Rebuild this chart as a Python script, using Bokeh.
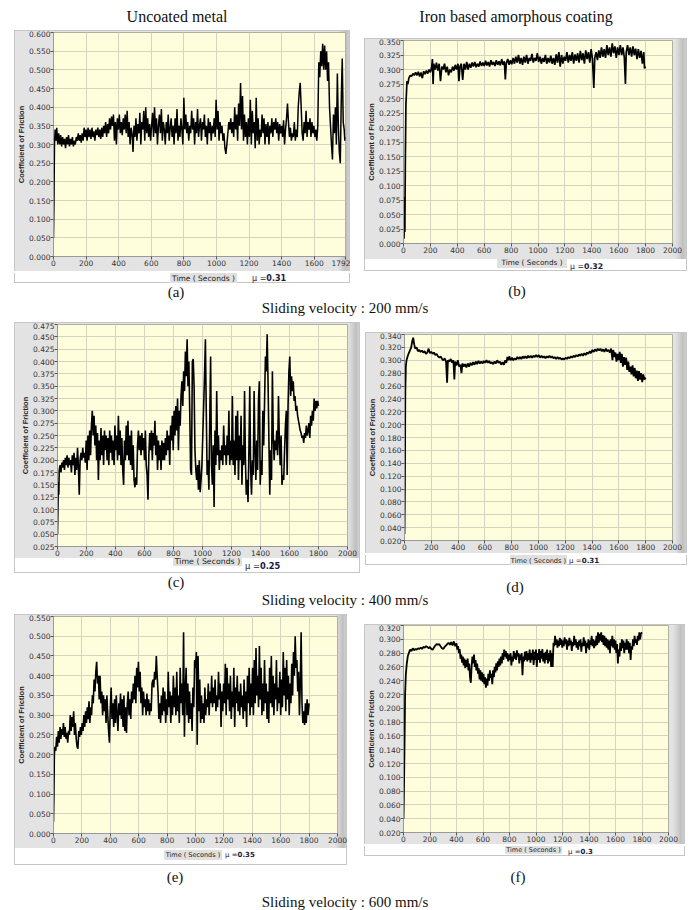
from bokeh.plotting import figure
from bokeh.models import Range1d, FixedTicker, PrintfTickFormatter, Div, Spacer
from bokeh.layouts import row, column
from bokeh.embed import file_html
from bokeh.resources import INLINE

# ---------------- data (time in s, coefficient of friction) ----------------
a_points = [(0,0.05),(3,0.15),(6,0.30),(10,0.34),(15,0.31),(20,0.345),(26,0.30),(32,0.33),(38,0.30),(44,0.325),
(50,0.295),(56,0.32),(62,0.30),(68,0.315),(74,0.29),(80,0.32),(86,0.30),(92,0.325),(98,0.295),(104,0.315),
(110,0.30),(116,0.32),(122,0.295),(128,0.31),(134,0.30),(140,0.32),(146,0.31),(152,0.33),(158,0.31),(164,0.325),
(170,0.305),(176,0.33),(182,0.31),(188,0.345),(194,0.32),(200,0.34),(206,0.31),(212,0.345),(218,0.32),(224,0.34),
(230,0.315),(236,0.345),(242,0.32),(248,0.335),(254,0.31),(260,0.34),(266,0.325),(272,0.345),(278,0.32),(284,0.34),
(290,0.315),(296,0.345),(302,0.32),(308,0.35),(314,0.33),(320,0.36),(326,0.32),(332,0.355),(338,0.33),(344,0.37),
(350,0.34),(356,0.375),(362,0.35),(368,0.38),(374,0.31),(380,0.36),(386,0.30),(392,0.37),(398,0.34),(404,0.38),
(410,0.33),(416,0.36),(422,0.325),(428,0.37),(434,0.34),(440,0.38),(446,0.33),(452,0.39),(458,0.32),(464,0.36),
(470,0.30),(476,0.345),(482,0.33),(488,0.28),(494,0.35),(500,0.32),(506,0.37),(512,0.31),(518,0.355),(524,0.33),
(530,0.385),(536,0.30),(542,0.36),(548,0.34),(554,0.39),(560,0.31),(566,0.40),(572,0.33),(578,0.37),(584,0.32),
(590,0.355),(596,0.31),(602,0.35),(608,0.385),(614,0.32),(620,0.40),(626,0.33),(632,0.37),(638,0.30),(644,0.35),
(650,0.38),(656,0.33),(662,0.395),(668,0.31),(674,0.36),(680,0.34),(686,0.30),(692,0.36),(698,0.33),(704,0.38),
(710,0.31),(716,0.345),(722,0.37),(728,0.32),(734,0.35),(740,0.30),(746,0.37),(752,0.33),(758,0.395),(764,0.31),
(770,0.35),(776,0.32),(782,0.37),(788,0.34),(794,0.30),(800,0.425),(806,0.34),(812,0.38),(818,0.33),(824,0.36),
(830,0.31),(836,0.35),(842,0.33),(848,0.39),(854,0.34),(860,0.37),(866,0.30),(872,0.36),(878,0.33),(884,0.395),
(890,0.32),(896,0.35),(902,0.37),(908,0.31),(914,0.36),(920,0.34),(926,0.38),(932,0.32),(938,0.35),(944,0.30),
(950,0.37),(956,0.33),(962,0.36),(968,0.31),(974,0.35),(980,0.33),(986,0.37),(992,0.32),(998,0.42),(1004,0.34),
(1010,0.39),(1016,0.31),(1022,0.36),(1028,0.33),(1034,0.35),(1040,0.31),(1046,0.33),(1052,0.29),(1058,0.275),(1064,0.30),
(1070,0.33),(1076,0.36),(1082,0.34),(1088,0.37),(1094,0.33),(1100,0.36),(1106,0.32),(1112,0.40),(1118,0.34),(1124,0.38),
(1130,0.31),(1136,0.41),(1142,0.35),(1148,0.465),(1154,0.34),(1160,0.43),(1166,0.31),(1172,0.38),(1178,0.32),(1184,0.36),
(1190,0.30),(1196,0.37),(1202,0.32),(1208,0.42),(1214,0.30),(1220,0.39),(1226,0.33),(1232,0.36),(1238,0.29),(1244,0.425),
(1250,0.31),(1256,0.37),(1262,0.30),(1268,0.34),(1274,0.32),(1280,0.38),(1286,0.33),(1292,0.37),(1298,0.30),(1304,0.355),
(1310,0.32),(1316,0.36),(1322,0.30),(1328,0.35),(1334,0.33),(1340,0.37),(1346,0.32),(1352,0.36),(1358,0.34),(1364,0.37),
(1370,0.33),(1376,0.36),(1382,0.31),(1388,0.355),(1394,0.33),(1400,0.35),(1406,0.32),(1412,0.365),(1418,0.30),(1424,0.34),
(1430,0.37),(1436,0.41),(1442,0.36),(1448,0.32),(1454,0.345),(1460,0.31),(1466,0.33),(1472,0.32),(1478,0.36),(1484,0.31),
(1490,0.34),(1496,0.32),(1502,0.40),(1508,0.44),(1514,0.465),(1520,0.40),(1526,0.33),(1532,0.31),(1538,0.36),(1544,0.33),
(1550,0.39),(1556,0.32),(1562,0.36),(1568,0.34),(1574,0.37),(1580,0.32),(1586,0.36),(1592,0.33),(1598,0.35),(1604,0.32),
(1610,0.34),(1616,0.31),(1622,0.35),(1628,0.52),(1634,0.48),(1640,0.55),(1646,0.51),(1652,0.57),(1658,0.50),(1664,0.565),
(1670,0.50),(1676,0.55),(1682,0.47),(1688,0.52),(1694,0.40),(1700,0.35),(1706,0.30),(1712,0.26),(1718,0.38),(1724,0.33),
(1730,0.40),(1736,0.30),(1742,0.49),(1748,0.35),(1754,0.28),(1760,0.25),(1766,0.42),(1772,0.53),(1778,0.36),(1784,0.34),
(1788,0.31),(1792,0.32)]

b_points = [(0,0.008),(4,0.01),(7,0.08),(10,0.02),(14,0.15),(18,0.24),(22,0.26),(26,0.28),(32,0.275),(40,0.285),
(50,0.29),(60,0.288),(70,0.293),(80,0.29),(90,0.295),(100,0.29),(110,0.296),(120,0.288),(130,0.295),(140,0.285),
(150,0.297),(160,0.292),(170,0.298),(180,0.293),(190,0.30),(200,0.295),(210,0.305),(215,0.318),(220,0.275),(225,0.31),
(235,0.30),(245,0.312),(255,0.298),(265,0.31),(275,0.28),(285,0.305),(295,0.30),(305,0.31),(315,0.295),(325,0.305),
(335,0.29),(345,0.30),(355,0.295),(365,0.305),(375,0.298),(385,0.308),(395,0.30),(405,0.31),(412,0.28),(420,0.305),
(430,0.31),(440,0.282),(450,0.31),(460,0.30),(470,0.313),(480,0.30),(490,0.31),(500,0.303),(510,0.312),(520,0.305),
(530,0.313),(540,0.304),(550,0.31),(560,0.305),(570,0.314),(580,0.306),(590,0.312),(600,0.306),(610,0.315),(620,0.307),
(630,0.313),(640,0.305),(650,0.316),(660,0.308),(670,0.313),(680,0.306),(690,0.316),(700,0.308),(710,0.314),(720,0.307),
(730,0.318),(740,0.308),(750,0.314),(757,0.283),(764,0.31),(775,0.318),(785,0.308),(795,0.316),(805,0.309),(815,0.32),
(825,0.31),(835,0.322),(845,0.312),(855,0.325),(865,0.31),(875,0.32),(885,0.308),(895,0.322),(905,0.312),(915,0.325),
(925,0.31),(935,0.32),(945,0.315),(955,0.327),(965,0.312),(975,0.32),(985,0.315),(995,0.328),(1005,0.313),(1015,0.322),
(1025,0.31),(1035,0.32),(1045,0.313),(1055,0.325),(1065,0.31),(1075,0.32),(1085,0.312),(1095,0.324),(1105,0.31),(1115,0.32),
(1125,0.308),(1135,0.326),(1145,0.312),(1155,0.33),(1165,0.305),(1175,0.325),(1185,0.31),(1195,0.322),(1205,0.315),(1215,0.33),
(1225,0.312),(1235,0.325),(1245,0.315),(1255,0.33),(1265,0.31),(1275,0.326),(1285,0.315),(1295,0.328),(1305,0.312),(1315,0.332),
(1325,0.316),(1335,0.328),(1345,0.31),(1355,0.333),(1365,0.318),(1375,0.33),(1385,0.312),(1395,0.335),(1405,0.318),(1415,0.268),
(1422,0.32),(1432,0.33),(1442,0.316),(1452,0.333),(1462,0.32),(1472,0.338),(1482,0.322),(1492,0.335),(1502,0.32),(1512,0.342),
(1522,0.325),(1532,0.338),(1542,0.322),(1552,0.345),(1562,0.328),(1572,0.34),(1582,0.32),(1592,0.338),(1602,0.325),(1612,0.342),
(1622,0.325),(1632,0.338),(1642,0.32),(1650,0.275),(1656,0.33),(1666,0.342),(1676,0.325),(1686,0.338),(1696,0.322),(1706,0.34),
(1716,0.325),(1726,0.336),(1736,0.318),(1746,0.335),(1756,0.32),(1766,0.332),(1776,0.31),(1786,0.33),(1792,0.302),(1800,0.305)]

c_points = [(0,0.05),(3,0.10),(6,0.155),(9,0.13),(12,0.18),(18,0.19),(24,0.175),(30,0.195),(36,0.185),(42,0.20),
(48,0.18),(54,0.205),(60,0.19),(66,0.21),(72,0.185),(78,0.205),(84,0.19),(90,0.20),(96,0.175),(102,0.21),
(108,0.19),(114,0.215),(120,0.17),(126,0.205),(132,0.18),(138,0.225),(144,0.19),(150,0.13),(156,0.20),(162,0.215),
(168,0.20),(174,0.225),(180,0.205),(186,0.215),(192,0.195),(198,0.24),(204,0.18),(210,0.25),(216,0.20),(222,0.26),
(228,0.21),(234,0.27),(240,0.30),(246,0.25),(252,0.29),(258,0.23),(264,0.27),(270,0.20),(276,0.255),(282,0.16),
(288,0.24),(294,0.20),(300,0.265),(306,0.21),(312,0.25),(318,0.19),(324,0.26),(330,0.22),(336,0.25),(342,0.20),
(348,0.245),(354,0.19),(360,0.26),(366,0.215),(372,0.25),(378,0.20),(384,0.24),(390,0.19),(396,0.27),(402,0.22),
(408,0.25),(414,0.20),(420,0.29),(426,0.21),(432,0.26),(438,0.19),(444,0.245),(450,0.18),(456,0.15),(462,0.24),
(468,0.20),(474,0.27),(480,0.21),(486,0.28),(492,0.20),(498,0.25),(504,0.19),(510,0.26),(516,0.18),(522,0.23),
(528,0.16),(534,0.145),(540,0.165),(546,0.15),(552,0.23),(558,0.26),(564,0.22),(570,0.25),(576,0.21),(582,0.255),
(588,0.22),(594,0.245),(600,0.20),(606,0.26),(612,0.19),(618,0.17),(624,0.12),(630,0.21),(636,0.255),(642,0.22),
(648,0.26),(654,0.20),(660,0.255),(666,0.23),(672,0.28),(678,0.21),(684,0.25),(690,0.18),(696,0.24),(702,0.20),
(708,0.23),(714,0.18),(720,0.24),(726,0.20),(732,0.235),(738,0.20),(744,0.245),(750,0.21),(756,0.26),(762,0.22),
(768,0.25),(774,0.19),(780,0.27),(786,0.24),(792,0.29),(798,0.22),(804,0.30),(810,0.25),(816,0.31),(822,0.26),
(828,0.325),(834,0.22),(840,0.30),(846,0.27),(852,0.33),(858,0.36),(864,0.31),(870,0.38),(876,0.34),(882,0.42),
(888,0.37),(894,0.445),(900,0.35),(906,0.40),(912,0.30),(918,0.18),(924,0.17),(930,0.40),(936,0.405),(942,0.35),
(948,0.22),(954,0.18),(960,0.16),(966,0.19),(972,0.14),(978,0.20),(984,0.135),(990,0.16),(996,0.19),(1002,0.25),
(1008,0.31),(1014,0.37),(1020,0.445),(1026,0.30),(1032,0.17),(1038,0.20),(1044,0.14),(1050,0.28),(1056,0.41),(1062,0.19),
(1068,0.15),(1074,0.23),(1080,0.105),(1086,0.26),(1092,0.19),(1098,0.34),(1104,0.21),(1110,0.25),(1116,0.18),(1122,0.22),
(1128,0.20),(1134,0.23),(1140,0.19),(1146,0.27),(1152,0.21),(1158,0.23),(1164,0.19),(1170,0.25),(1176,0.21),(1182,0.30),
(1188,0.19),(1194,0.24),(1200,0.20),(1206,0.33),(1212,0.19),(1218,0.24),(1224,0.17),(1230,0.29),(1236,0.20),(1242,0.30),
(1248,0.16),(1254,0.25),(1260,0.20),(1266,0.29),(1272,0.15),(1278,0.23),(1284,0.19),(1290,0.34),(1296,0.20),(1302,0.13),
(1308,0.16),(1314,0.115),(1320,0.22),(1326,0.35),(1332,0.18),(1338,0.13),(1344,0.20),(1350,0.17),(1356,0.34),(1362,0.22),
(1368,0.16),(1374,0.24),(1380,0.18),(1386,0.32),(1392,0.36),(1398,0.15),(1404,0.20),(1410,0.17),(1416,0.30),(1422,0.23),
(1428,0.32),(1434,0.41),(1440,0.38),(1446,0.455),(1452,0.36),(1458,0.24),(1464,0.13),(1470,0.22),(1476,0.16),(1482,0.38),
(1488,0.25),(1494,0.20),(1500,0.24),(1506,0.22),(1512,0.26),(1518,0.21),(1524,0.33),(1530,0.24),(1536,0.19),(1542,0.25),
(1548,0.15),(1554,0.17),(1560,0.16),(1566,0.22),(1572,0.27),(1578,0.30),(1584,0.17),(1590,0.31),(1596,0.38),(1602,0.41),
(1608,0.33),(1614,0.37),(1620,0.34),(1626,0.36),(1632,0.32),(1638,0.33),(1644,0.30),(1650,0.31),(1656,0.29),(1662,0.28),
(1668,0.27),(1674,0.26),(1680,0.255),(1686,0.245),(1692,0.25),(1698,0.235),(1704,0.255),(1710,0.245),(1716,0.27),(1722,0.25),
(1728,0.26),(1734,0.275),(1740,0.245),(1746,0.29),(1752,0.27),(1758,0.30),(1764,0.28),(1770,0.325),(1776,0.30),(1782,0.32),
(1788,0.305),(1794,0.32),(1800,0.31)]

d_points = [(0,0.03),(3,0.10),(6,0.25),(10,0.29),(15,0.30),(22,0.305),(30,0.31),(40,0.315),(50,0.32),(58,0.33),
(65,0.335),(72,0.325),(80,0.318),(90,0.32),(100,0.314),(110,0.316),(120,0.313),(130,0.315),(140,0.312),(150,0.314),
(160,0.31),(170,0.312),(180,0.318),(190,0.311),(200,0.313),(210,0.31),(220,0.312),(230,0.308),(240,0.31),(250,0.306),
(260,0.304),(270,0.306),(280,0.302),(290,0.30),(300,0.303),(310,0.298),(318,0.265),(324,0.30),(335,0.298),(345,0.302),
(355,0.296),(365,0.30),(372,0.27),(378,0.298),(388,0.292),(398,0.30),(408,0.29),(418,0.293),(425,0.28),(432,0.295),
(442,0.29),(452,0.294),(462,0.289),(472,0.295),(482,0.29),(492,0.296),(502,0.292),(512,0.297),(522,0.293),(532,0.298),
(542,0.294),(552,0.299),(562,0.295),(572,0.298),(582,0.295),(592,0.299),(602,0.296),(612,0.30),(622,0.296),(632,0.299),
(642,0.295),(652,0.297),(662,0.294),(672,0.298),(682,0.295),(692,0.30),(702,0.296),(712,0.298),(722,0.293),(732,0.297),
(742,0.293),(752,0.30),(760,0.296),(768,0.305),(775,0.30),(782,0.306),(792,0.30),(802,0.304),(812,0.30),(822,0.303),
(832,0.301),(842,0.305),(852,0.302),(862,0.305),(872,0.302),(882,0.306),(892,0.303),(902,0.306),(912,0.303),(922,0.307),
(932,0.304),(942,0.307),(952,0.304),(962,0.307),(972,0.305),(982,0.308),(992,0.305),(1002,0.308),(1012,0.304),(1022,0.307),
(1032,0.304),(1042,0.306),(1052,0.303),(1062,0.306),(1072,0.304),(1082,0.307),(1092,0.304),(1102,0.306),(1112,0.303),(1122,0.305),
(1132,0.302),(1142,0.305),(1152,0.302),(1162,0.304),(1172,0.301),(1182,0.303),(1192,0.301),(1202,0.304),(1212,0.302),(1222,0.305),
(1232,0.303),(1242,0.306),(1252,0.304),(1262,0.307),(1272,0.305),(1282,0.308),(1292,0.306),(1302,0.309),(1312,0.307),(1322,0.31),
(1332,0.307),(1342,0.311),(1352,0.308),(1362,0.312),(1372,0.31),(1382,0.314),(1392,0.311),(1402,0.316),(1412,0.313),(1422,0.317),
(1432,0.314),(1442,0.318),(1452,0.315),(1462,0.318),(1472,0.314),(1482,0.317),(1492,0.313),(1502,0.318),(1512,0.314),(1522,0.316),
(1532,0.312),(1542,0.318),(1552,0.30),(1558,0.316),(1566,0.305),(1574,0.312),(1582,0.298),(1590,0.31),(1598,0.30),(1606,0.313),
(1614,0.296),(1622,0.31),(1630,0.29),(1638,0.305),(1646,0.293),(1654,0.304),(1662,0.285),(1670,0.298),(1678,0.282),(1686,0.29),
(1694,0.278),(1702,0.292),(1710,0.275),(1718,0.288),(1726,0.272),(1734,0.284),(1742,0.268),(1750,0.283),(1758,0.27),(1766,0.28),
(1774,0.266),(1782,0.278),(1790,0.27),(1800,0.273)]

e_points = [(0,0.03),(3,0.10),(6,0.20),(10,0.22),(16,0.21),(22,0.245),(28,0.22),(34,0.26),(40,0.23),(46,0.27),
(52,0.24),(58,0.265),(64,0.25),(70,0.28),(76,0.245),(82,0.27),(88,0.24),(94,0.255),(100,0.23),(106,0.26),
(112,0.25),(118,0.30),(124,0.26),(130,0.295),(136,0.27),(142,0.31),(148,0.25),(154,0.28),(160,0.24),(166,0.22),
(172,0.215),(178,0.26),(184,0.245),(190,0.27),(196,0.25),(202,0.28),(208,0.26),(214,0.30),(220,0.27),(226,0.31),
(232,0.28),(238,0.32),(244,0.29),(250,0.335),(256,0.28),(262,0.32),(268,0.30),(274,0.35),(280,0.33),(286,0.39),
(292,0.36),(298,0.41),(304,0.435),(310,0.38),(316,0.40),(322,0.34),(328,0.40),(334,0.33),(340,0.36),(346,0.30),
(352,0.35),(358,0.31),(364,0.34),(370,0.28),(376,0.35),(382,0.30),(388,0.26),(394,0.23),(400,0.32),(406,0.37),
(412,0.29),(418,0.33),(424,0.27),(430,0.34),(436,0.28),(442,0.35),(448,0.30),(454,0.26),(460,0.33),(466,0.30),
(472,0.355),(478,0.29),(484,0.34),(490,0.27),(496,0.35),(502,0.26),(508,0.32),(514,0.255),(520,0.33),(526,0.36),
(532,0.30),(538,0.34),(544,0.29),(550,0.36),(556,0.33),(562,0.38),(568,0.34),(574,0.40),(580,0.33),(586,0.42),
(592,0.37),(598,0.435),(604,0.36),(610,0.41),(616,0.33),(622,0.37),(628,0.30),(634,0.36),(640,0.32),(646,0.34),
(652,0.30),(658,0.355),(664,0.31),(670,0.34),(676,0.30),(682,0.33),(688,0.31),(694,0.38),(700,0.39),(706,0.37),
(712,0.41),(718,0.39),(724,0.45),(730,0.40),(736,0.36),(742,0.29),(748,0.33),(754,0.28),(760,0.35),(766,0.30),
(772,0.37),(778,0.31),(784,0.36),(790,0.28),(796,0.34),(802,0.30),(808,0.41),(814,0.32),(820,0.36),(826,0.28),
(832,0.35),(838,0.30),(844,0.40),(850,0.32),(856,0.37),(862,0.30),(868,0.41),(874,0.31),(880,0.35),(886,0.28),
(892,0.42),(898,0.33),(904,0.38),(910,0.30),(916,0.51),(922,0.245),(928,0.36),(934,0.42),(940,0.30),(946,0.38),
(952,0.28),(958,0.36),(964,0.29),(970,0.33),(976,0.26),(982,0.37),(988,0.32),(994,0.44),(1000,0.42),(1006,0.46),
(1012,0.225),(1018,0.45),(1024,0.31),(1030,0.39),(1036,0.28),(1042,0.35),(1048,0.29),(1054,0.33),(1060,0.28),(1066,0.37),
(1072,0.30),(1078,0.34),(1084,0.32),(1090,0.38),(1096,0.30),(1102,0.36),(1108,0.33),(1114,0.40),(1120,0.32),(1126,0.37),
(1132,0.33),(1138,0.39),(1144,0.31),(1150,0.35),(1156,0.32),(1162,0.41),(1168,0.34),(1174,0.38),(1180,0.27),(1186,0.36),
(1192,0.31),(1198,0.38),(1204,0.33),(1210,0.43),(1216,0.30),(1222,0.42),(1228,0.34),(1234,0.38),(1240,0.31),(1246,0.40),
(1252,0.29),(1258,0.36),(1264,0.32),(1270,0.42),(1276,0.27),(1282,0.37),(1288,0.33),(1294,0.40),(1300,0.31),(1306,0.36),
(1312,0.30),(1318,0.38),(1324,0.32),(1330,0.35),(1336,0.29),(1342,0.39),(1348,0.31),(1354,0.36),(1360,0.27),(1366,0.40),
(1372,0.33),(1378,0.42),(1384,0.30),(1390,0.38),(1396,0.32),(1402,0.42),(1408,0.30),(1414,0.44),(1420,0.33),(1426,0.47),
(1432,0.35),(1438,0.40),(1444,0.32),(1450,0.475),(1456,0.34),(1462,0.42),(1468,0.30),(1474,0.38),(1480,0.31),(1486,0.44),
(1492,0.33),(1498,0.38),(1504,0.29),(1510,0.36),(1516,0.28),(1522,0.42),(1528,0.33),(1534,0.45),(1540,0.32),(1546,0.40),
(1552,0.30),(1558,0.38),(1564,0.34),(1570,0.44),(1576,0.31),(1582,0.37),(1588,0.33),(1594,0.41),(1600,0.30),(1606,0.39),
(1612,0.32),(1618,0.46),(1624,0.35),(1630,0.42),(1636,0.31),(1642,0.44),(1648,0.34),(1654,0.40),(1660,0.30),(1666,0.38),
(1672,0.33),(1678,0.43),(1684,0.35),(1690,0.46),(1696,0.40),(1702,0.50),(1708,0.42),(1714,0.44),(1720,0.36),(1726,0.41),
(1732,0.30),(1738,0.38),(1744,0.51),(1750,0.33),(1756,0.28),(1762,0.31),(1768,0.275),(1774,0.33),(1780,0.28),(1786,0.34),
(1792,0.30),(1800,0.33)]

f_points = [(0,0.04),(4,0.09),(8,0.15),(12,0.22),(18,0.25),(25,0.265),(32,0.275),(40,0.28),(50,0.285),(60,0.283),
(70,0.287),(80,0.284),(90,0.286),(100,0.285),(110,0.287),(120,0.286),(130,0.288),(140,0.286),(150,0.289),(160,0.288),
(170,0.29),(180,0.289),(190,0.287),(200,0.289),(210,0.286),(220,0.285),(230,0.288),(240,0.291),(250,0.293),(260,0.292),
(270,0.293),(280,0.29),(290,0.287),(300,0.286),(310,0.289),(320,0.291),(330,0.293),(340,0.295),(350,0.292),(360,0.296),
(370,0.291),(380,0.297),(390,0.29),(400,0.294),(406,0.285),(412,0.29),(418,0.28),(424,0.286),(430,0.272),(436,0.278),
(442,0.266),(448,0.275),(454,0.262),(460,0.272),(466,0.258),(472,0.27),(478,0.26),(484,0.272),(490,0.255),(496,0.265),
(502,0.245),(508,0.237),(514,0.26),(520,0.275),(526,0.265),(532,0.278),(538,0.26),(544,0.27),(550,0.255),(556,0.265),
(562,0.25),(568,0.258),(574,0.242),(580,0.255),(586,0.24),(592,0.252),(598,0.238),(604,0.25),(610,0.235),(616,0.245),
(622,0.23),(628,0.243),(634,0.233),(640,0.25),(646,0.24),(652,0.255),(658,0.244),(664,0.25),(670,0.235),(676,0.255),
(682,0.245),(688,0.26),(694,0.252),(700,0.265),(706,0.255),(712,0.268),(718,0.26),(724,0.272),(730,0.262),(736,0.275),
(742,0.265),(748,0.28),(754,0.27),(760,0.285),(766,0.275),(772,0.283),(778,0.272),(784,0.28),(790,0.268),(796,0.278),
(802,0.27),(808,0.28),(814,0.262),(820,0.275),(826,0.268),(832,0.283),(838,0.272),(844,0.28),(850,0.27),(856,0.284),
(862,0.275),(868,0.28),(874,0.265),(880,0.278),(886,0.27),(892,0.28),(898,0.248),(904,0.275),(910,0.268),(916,0.282),
(922,0.27),(928,0.283),(934,0.268),(940,0.28),(946,0.27),(952,0.285),(958,0.266),(964,0.28),(970,0.27),(976,0.285),
(982,0.263),(988,0.282),(994,0.27),(1000,0.285),(1006,0.26),(1012,0.28),(1018,0.27),(1024,0.286),(1030,0.266),(1036,0.283),
(1042,0.272),(1048,0.286),(1054,0.268),(1060,0.28),(1066,0.265),(1072,0.282),(1078,0.27),(1084,0.285),(1090,0.265),(1096,0.28),
(1102,0.268),(1108,0.284),(1114,0.26),(1120,0.28),(1126,0.26),(1132,0.295),(1138,0.29),(1144,0.305),(1150,0.292),(1156,0.30),
(1162,0.288),(1168,0.298),(1174,0.29),(1180,0.302),(1186,0.292),(1192,0.30),(1198,0.288),(1204,0.298),(1210,0.29),(1216,0.303),
(1222,0.293),(1228,0.30),(1234,0.285),(1240,0.298),(1246,0.29),(1252,0.302),(1258,0.292),(1264,0.298),(1270,0.283),(1276,0.296),
(1282,0.29),(1288,0.305),(1294,0.292),(1300,0.30),(1306,0.288),(1312,0.296),(1318,0.285),(1324,0.298),(1330,0.29),(1336,0.30),
(1342,0.282),(1348,0.295),(1354,0.29),(1360,0.303),(1366,0.29),(1372,0.298),(1378,0.28),(1384,0.295),(1390,0.288),(1396,0.30),
(1402,0.285),(1408,0.298),(1414,0.292),(1420,0.305),(1426,0.29),(1432,0.30),(1438,0.287),(1444,0.298),(1450,0.29),(1456,0.305),
(1462,0.292),(1468,0.31),(1474,0.295),(1480,0.308),(1486,0.298),(1492,0.31),(1498,0.296),(1504,0.306),(1510,0.292),(1516,0.305),
(1522,0.29),(1528,0.302),(1534,0.288),(1540,0.30),(1546,0.285),(1552,0.298),(1558,0.28),(1564,0.30),(1570,0.29),(1576,0.305),
(1582,0.288),(1588,0.30),(1594,0.285),(1600,0.298),(1606,0.28),(1612,0.293),(1618,0.265),(1624,0.285),(1630,0.275),(1636,0.295),
(1642,0.283),(1648,0.30),(1654,0.287),(1660,0.298),(1666,0.28),(1672,0.295),(1678,0.285),(1684,0.30),(1690,0.285),(1696,0.297),
(1702,0.28),(1708,0.295),(1714,0.27),(1720,0.29),(1726,0.285),(1732,0.30),(1738,0.29),(1744,0.305),(1750,0.295),(1756,0.30),
(1762,0.292),(1768,0.305),(1774,0.298),(1780,0.31),(1786,0.30),(1792,0.308),(1800,0.31)]

# tick labels
x_ticks_a = [0, 200, 400, 600, 800, 1000, 1200, 1400, 1600, 1792]
x_ticks = [0, 200, 400, 600, 800, 1000, 1200, 1400, 1600, 1800, 2000]
y_ticks_a = [0.0, 0.05, 0.1, 0.15, 0.2, 0.25, 0.3, 0.35, 0.4, 0.45, 0.5, 0.55, 0.6]
y_ticks_b = [0.0, 0.025, 0.05, 0.075, 0.1, 0.125, 0.15, 0.175, 0.2, 0.225, 0.25, 0.275, 0.3, 0.325, 0.35]
y_ticks_c = [0.025, 0.05, 0.075, 0.1, 0.125, 0.15, 0.175, 0.2, 0.225, 0.25, 0.275, 0.3, 0.325, 0.35,
             0.375, 0.4, 0.425, 0.45, 0.475]
y_ticks_d = [0.02, 0.04, 0.06, 0.08, 0.1, 0.12, 0.14, 0.16, 0.18, 0.2, 0.22, 0.24, 0.26, 0.28, 0.3, 0.32, 0.34]
y_ticks_e = [0.0, 0.05, 0.1, 0.15, 0.2, 0.25, 0.3, 0.35, 0.4, 0.45, 0.5, 0.55]
y_ticks_f = [0.02, 0.04, 0.06, 0.08, 0.1, 0.12, 0.14, 0.16, 0.18, 0.2, 0.22, 0.24, 0.26, 0.28, 0.3, 0.32]

mu_values = ["0.31", "0.32", "0.25", "0.31", "0.35", "0.3"]
titles = ["Uncoated metal", "Iron based amorphous coating"]
captions = ["(a)", "(b)", "(c)", "(d)", "(e)", "(f)"]
velocities = ["Sliding velocity : 200 mm/s", "Sliding velocity : 400 mm/s", "Sliding velocity : 600 mm/s"]

# ---------------- styling ----------------
YELLOW = "#fefedc"
GRAY = "#e3e3e3"
GRID = "#d6d4c0"
TICKFONT = "DejaVu Sans"
SERIF = "Liberation Serif"


def make_panel(points, xr, xt, yr, yt, left, pw, right, top, ph, bottom, lw):
    t = [p[0] for p in points]
    v = [p[1] for p in points]
    fig = figure(width=left + pw + right, height=top + ph + bottom,
                 x_range=Range1d(*xr), y_range=Range1d(*yr),
                 output_backend="svg", toolbar_location=None,
                 min_border_left=left, min_border_right=right,
                 min_border_top=top, min_border_bottom=bottom,
                 background_fill_color=YELLOW, border_fill_alpha=0,
                 outline_line_color="#b0b0a0",
                 styles={"background": "linear-gradient(to right, %s 0px, %s calc(100%% - 12px), #c0c0c0 calc(100%% - 4px), #d4d4d4 100%%)" % (GRAY, GRAY),
                         "box-shadow": "inset 1px 1px 0 #c6c6c6, inset -1px 0 0 #c6c6c6"})
    fig.line(t, v, line_color="black", line_width=lw)
    fig.xaxis.ticker = FixedTicker(ticks=xt)
    fig.yaxis.ticker = FixedTicker(ticks=yt)
    fig.xgrid.ticker = FixedTicker(ticks=xt)
    fig.ygrid.ticker = FixedTicker(ticks=yt)
    fig.yaxis.formatter = PrintfTickFormatter(format="%.3f")
    for g in (fig.xgrid, fig.ygrid):
        g.grid_line_color = GRID
        g.grid_line_width = 1
    for ax in (fig.xaxis, fig.yaxis):
        ax.major_label_text_font = TICKFONT
        ax.major_label_text_font_size = "7.5px"
        ax.major_label_text_color = "#333333"
        ax.major_tick_in = 0
        ax.major_tick_out = 3
        ax.major_tick_line_color = "#555555"
        ax.minor_tick_line_color = None
        ax.axis_line_color = "#9a9a9a"
        ax.major_label_standoff = 0
    fig.yaxis.axis_label = "Coefficient of Friction"
    fig.yaxis.axis_label_text_font = "Liberation Sans"
    fig.yaxis.axis_label_text_font_style = "bold"
    fig.yaxis.axis_label_text_font_size = "7.5px"
    fig.yaxis.axis_label_text_color = "#222222"
    fig.yaxis.axis_label_standoff = 0
    return fig


def text_div(w, h, text, cx, cy, size=15):
    html = ('<div style="position:relative;width:%dpx;height:%dpx;">'
            '<span style="position:absolute;left:%gpx;top:%gpx;transform:translateX(-50%%);white-space:nowrap;'
            'font-family:\'%s\';font-size:%gpx;line-height:%gpx;color:#111;">%s</span></div>'
            % (w, h, cx, cy - size * 0.6, SERIF, size, size * 1.2, text))
    return Div(text=html, width=w, height=h, styles={"margin": "0", "padding": "0"})


def strip_div(w, h, fx0, fx1, box, time_cy, mu_x, mu_cy, mu, tsize):
    bx0, bx1, by0, by1 = box
    html = ('<div style="position:relative;width:%dpx;height:%dpx;overflow:hidden;">' % (w, h) +
            '<div style="position:absolute;left:%dpx;top:0;width:%dpx;height:%dpx;box-sizing:border-box;'
            'background:#ffffff;border:1px solid #c6c6c6;border-top:none;"></div>' % (fx0, fx1 - fx0, h) +
            '<div style="position:absolute;left:%dpx;top:%dpx;width:%dpx;height:%dpx;background:#e0e0e0;"></div>'
            % (bx0, by0, bx1 - bx0, by1 - by0) +
            '<span style="position:absolute;left:%gpx;top:%gpx;transform:translateX(-50%%);white-space:nowrap;'
            'font-family:\'DejaVu Sans\';font-size:%gpx;line-height:8px;color:#222;">Time ( Seconds )</span>'
            % ((bx0 + bx1) / 2.0, time_cy - 4, tsize) +
            '<span style="position:absolute;left:%dpx;top:%gpx;white-space:nowrap;'
            'font-family:\'DejaVu Sans\';font-size:%gpx;line-height:8px;color:#1a1a40;">&mu; =<b>%s</b></span>'
            % (mu_x, mu_cy - 4, tsize + 0.5, mu) +
            '</div>')
    return Div(text=html, width=w, height=h, styles={"margin": "0", "padding": "0"})


# ---------------- panels ----------------
fa = make_panel(a_points, (0, 1792), x_ticks_a, (0, 0.6), y_ticks_a, 38, 293, 5, 2, 224, 15, 1.5)
fb = make_panel(b_points, (0, 2000), x_ticks, (0, 0.35), y_ticks_b, 38, 270, 15, 2, 203, 16, 1.7)
fc = make_panel(c_points, (0, 2000), x_ticks, (0.025, 0.475), y_ticks_c, 43, 290, 13, 2, 222, 12, 1.6)
fd = make_panel(d_points, (0, 2000), x_ticks, (0.02, 0.34), y_ticks_d, 38, 269, 15, 2, 206, 13, 1.8)
fe = make_panel(e_points, (0, 2000), x_ticks, (0, 0.55), y_ticks_e, 38, 285, 10, 2, 217, 15, 1.6)
ff = make_panel(f_points, (0, 2000), x_ticks, (0.02, 0.32), y_ticks_f, 38, 266, 17, 1, 207, 12, 1.8)

col_a = column(
    text_div(350, 30, titles[0], 177, 17, 16),
    row(Spacer(width=14, height=241), fa),
    strip_div(350, 10, 14, 350, (170, 237, 0, 10), 6, 252, 6, mu_values[0], 7.5),
    text_div(350, 19, captions[0], 176, 11),
)
col_b = column(
    text_div(343, 38, titles[1], 166, 17, 16),
    row(Spacer(width=14, height=221), fb, Spacer(width=6, height=221)),
    strip_div(343, 12, 14, 337, (147, 217, 0, 9), 4, 220, 8, mu_values[1], 7.3),
    text_div(343, 29, captions[1], 167, 20),
)
col_c = column(
    Spacer(width=362, height=6),
    row(Spacer(width=14, height=236), fc, Spacer(width=2, height=236)),
    strip_div(362, 15, 14, 360, (173, 242, 0, 8), 4, 245, 8, mu_values[2], 7.8),
    text_div(362, 19, captions[2], 176, 9),
)
col_d = column(
    Spacer(width=331, height=16),
    row(Spacer(width=3, height=221), fd, Spacer(width=6, height=221)),
    strip_div(331, 10, 3, 325, (148, 205, 0, 10), 6, 207, 6, mu_values[3], 6.6),
    text_div(331, 29, captions[3], 153, 24),
)
col_e = column(
    Spacer(width=350, height=6),
    row(Spacer(width=14, height=234), fe, Spacer(width=3, height=234)),
    strip_div(350, 17, 14, 347, (164, 222, 2, 12), 7, 225, 7, mu_values[4], 6.5),
    text_div(350, 22, captions[4], 175, 12),
)
col_f = column(
    Spacer(width=343, height=16),
    row(Spacer(width=14, height=220), ff, Spacer(width=8, height=220)),
    strip_div(343, 10, 14, 335, (155, 212, 0, 8), 4, 218, 6, mu_values[5], 6.5),
    text_div(343, 33, captions[5], 168, 23),
)

page = column(
    row(col_a, col_b),
    text_div(693, 16, velocities[0], 345, 8),
    row(col_c, col_d),
    text_div(693, 16, velocities[1], 345, 8),
    row(col_e, col_f),
    text_div(693, 23, velocities[2], 345, 15),
)

open("out.html", "w").write(file_html(page, INLINE))
